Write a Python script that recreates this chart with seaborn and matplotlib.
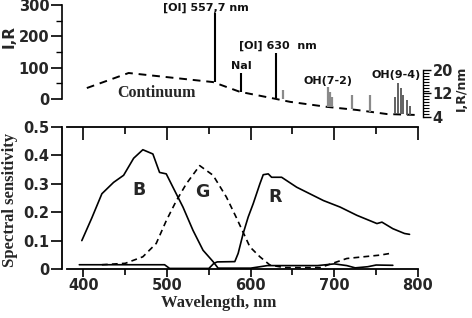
import numpy as np
import pandas as pd
import matplotlib
matplotlib.use("Agg")
import matplotlib.pyplot as plt
import seaborn as sns
from matplotlib.ticker import FixedLocator
from matplotlib.font_manager import FontProperties

sns.set_theme(style="white")
plt.rcParams['font.family'] = ['DejaVu Sans']

# ---------------- data: upper panel (nightglow spectrum) ----------------
cont_wl = [404, 454, 555, 587, 627, 647, 691, 727, 763, 799]
cont_I = [35, 83, 54, 23, 2, -9, -25, -35, -48, -51]

lines_wl = [557.7, 589.0, 630.0]
lines_top = [275, 82, 146]
lines_base = [54, 22, 2]

oh_wl = [639, 692.5, 695, 697, 721.5, 742.5]
oh_top = [30, 37, 23, 7, 13, 13]
oh_base = [0, -25, -25, -25, -33, -40]

oh94_wl = [772.5, 776.5, 779.5, 782.5, 786.5, 790.5]
oh94_top = [6, 51, 35, 13, -3, -22]
oh94_base = [-48, -48, -49, -49, -50, -50]

labels_top = ["[OI] 557,7 nm", "NaI", "[OI] 630  nm", "OH(7-2)", "OH(9-4)", "Continuum"]

# ---------------- data: lower panel (spectral sensitivity) ----------------
B_wl = [398, 410, 422, 436, 448, 460, 471, 483, 491, 499, 507, 519, 531, 543, 555, 561,
        600, 620, 680, 700, 715, 725, 740, 750, 770]
B_val = [0.10, 0.18, 0.265, 0.305, 0.33, 0.39, 0.42, 0.405, 0.34, 0.335, 0.288, 0.218,
         0.136, 0.066, 0.026, 0.003, 0.003, 0.012, 0.012, 0.018, 0.012, 0.004, 0.008,
         0.014, 0.013]

G_wl = [422, 450, 471, 487, 499, 511, 523, 539, 555, 571, 583, 599, 611, 623, 640, 683,
        695, 715, 735, 755, 769]
G_val = [0.015, 0.02, 0.043, 0.09, 0.17, 0.24, 0.30, 0.364, 0.33, 0.253, 0.18, 0.078,
         0.043, 0.014, 0.005, 0.005, 0.017, 0.037, 0.043, 0.049, 0.056]

R_wl = [395, 497, 503, 550, 556, 560, 581, 585, 591, 597, 603, 611, 615, 621, 625, 637,
        655, 687, 707, 727, 751, 757, 770, 784, 790]
R_val = [0.015, 0.015, 0.002, 0.002, 0.02, 0.025, 0.026, 0.055, 0.125, 0.183, 0.23, 0.30,
         0.332, 0.335, 0.323, 0.323, 0.288, 0.241, 0.218, 0.189, 0.16, 0.165, 0.142,
         0.125, 0.122]

x_ticks = [400, 500, 600, 700, 800]

# ---------------- figure ----------------
W, H = 472, 318
fig = plt.figure(figsize=(W / 100, H / 100), dpi=100)
fig.patch.set_facecolor("white")

def rect(x0, y0, x1, y1):
    return [x0 / W, 1 - y1 / H, (x1 - x0) / W, (y1 - y0) / H]

XLIM = (374.3, 806.1)
tick_font = dict(family="DejaVu Sans", weight="bold", size=10.5)
serif_font = dict(family="Liberation Serif", weight="bold")

# ---- top panel ----
ax_t = fig.add_axes(rect(62, 3, 423, 120))
ax_t.set_facecolor("none")
ax_t.set_xlim(*XLIM)
ax_t.set_ylim(-67.0, 306.4)

cont_df = pd.DataFrame({"wl": cont_wl, "I": cont_I})
sns.lineplot(data=cont_df, x="wl", y="I", ax=ax_t, color="black", lw=1.4,
             linestyle=(0, (4, 3)), legend=False)
ax_t.vlines(lines_wl, lines_base, lines_top, color="black", lw=1.5)
ax_t.vlines(oh_wl, oh_base, oh_top, color="#8a8a8a", lw=1.6)
ax_t.vlines(oh94_wl, oh94_base, oh94_top, color="#555555", lw=1.3)

for s in ["top", "bottom", "right"]:
    ax_t.spines[s].set_visible(False)
ax_t.spines["left"].set_bounds(0, 300)
ax_t.spines["left"].set_color("black")
ax_t.spines["left"].set_linewidth(1.2)
ax_t.set_xticks([])
ax_t.yaxis.set_major_locator(FixedLocator([0, 100, 200, 300]))
ax_t.yaxis.set_minor_locator(FixedLocator([50, 150, 250]))
ax_t.tick_params(axis="y", which="major", left=True, direction="out", length=8, width=1.2,
                 color="black", pad=1)
ax_t.tick_params(axis="y", which="minor", left=True, direction="out", length=4, width=1.0,
                 color="black")
for lb in ax_t.get_yticklabels():
    lb.set_fontproperties(FontProperties(**tick_font))
ax_t.set_xlabel("")
ax_t.set_ylabel("")

ax_r = ax_t.twinx()
ax_r.set_facecolor("none")
ax_r.set_ylim(2.98, 42.8)
for s in ["top", "bottom", "left"]:
    ax_r.spines[s].set_visible(False)
ax_r.spines["right"].set_bounds(4, 20)
ax_r.spines["right"].set_color("black")
ax_r.spines["right"].set_linewidth(1.0)
ax_r.yaxis.set_major_locator(FixedLocator([4, 12, 20]))
ax_r.yaxis.set_minor_locator(FixedLocator(list(range(4, 21))))
ax_r.tick_params(axis="y", which="major", right=True, direction="out", length=6, width=1.0,
                 color="black", pad=1)
ax_r.tick_params(axis="y", which="minor", right=True, direction="out", length=4, width=0.8,
                 color="black")
for lb in ax_r.get_yticklabels():
    lb.set_fontproperties(FontProperties(**tick_font))
ax_r.set_xticks([])

ann = dict(family="DejaVu Sans", weight="bold", size=8, color="#111111")
ax_t.text(546, 291, labels_top[0], ha="center", va="center", **ann)
ax_t.text(589.0, 88, labels_top[1], ha="center", va="bottom", **ann)
ax_t.text(632, 152, labels_top[2], ha="center", va="bottom", **ann)
ax_t.text(692, 40, labels_top[3], ha="center", va="bottom", **ann)
ax_t.text(774, 62, labels_top[4], ha="center", va="bottom", **ann)
ax_t.text(487, 19, labels_top[5], ha="center", va="center", size=11.5, **serif_font)

fig.text(9 / W, 1 - 37 / H, "I,R", rotation=90, ha="center", va="center",
         family="DejaVu Sans", weight="bold", size=11)
fig.text(461 / W, 1 - 88 / H, "I,R/nm", rotation=90, ha="center", va="center",
         family="DejaVu Sans", weight="bold", size=9)

# ---- bottom panel ----
ax_b = fig.add_axes(rect(62, 127, 423, 272))
ax_b.set_facecolor("none")
ax_b.set_xlim(*XLIM)
ax_b.set_ylim(-3 / 284, 0.5)

sens = pd.concat([
    pd.DataFrame({"wl": B_wl, "v": B_val, "ch": "B"}),
    pd.DataFrame({"wl": G_wl, "v": G_val, "ch": "G"}),
    pd.DataFrame({"wl": R_wl, "v": R_val, "ch": "R"}),
])
sns.lineplot(data=sens, x="wl", y="v", hue="ch", style="ch",
             palette={"B": "black", "G": "black", "R": "black"},
             dashes={"B": "", "G": (3.5, 2.5), "R": ""},
             lw=1.2, ax=ax_b, legend=False, sort=False, estimator=None)

ax_b.spines["right"].set_visible(False)
ax_b.spines["top"].set_visible(False)
ax_b.spines["bottom"].set_position(("data", 0))
ax_b.spines["bottom"].set_bounds(380, 800)
ax_b.spines["left"].set_bounds(0, 0.5)
for s in ["bottom", "left"]:
    ax_b.spines[s].set_color("black")
    ax_b.spines[s].set_linewidth(1.3)
ax_b.xaxis.set_major_locator(FixedLocator(x_ticks))
ax_b.xaxis.set_minor_locator(FixedLocator([450, 550, 650, 750]))
ax_b.yaxis.set_major_locator(FixedLocator([0, 0.1, 0.2, 0.3, 0.4, 0.5]))
ax_b.set_yticklabels(["0", "0.1", "0.2", "0.3", "0.4", "0.5"])
ax_b.tick_params(axis="x", which="major", bottom=True, direction="out", length=6, width=1.2,
                 color="black", pad=0.5)
ax_b.tick_params(axis="x", which="minor", bottom=True, direction="out", length=4, width=1.2,
                 color="black")
ax_b.tick_params(axis="y", which="major", left=True, direction="out", length=8, width=1.2,
                 color="black", pad=1)
for lb in ax_b.get_yticklabels() + ax_b.get_xticklabels():
    lb.set_fontproperties(FontProperties(**tick_font))
ax_b.set_xlabel("")
ax_b.set_ylabel("")

ax_b2 = ax_b.twiny()
ax_b2.set_xlim(*XLIM)
for s in ["bottom", "left", "right"]:
    ax_b2.spines[s].set_visible(False)
ax_b2.spines["top"].set_bounds(380, 800)
ax_b2.spines["top"].set_color("black")
ax_b2.spines["top"].set_linewidth(1.3)
ax_b2.xaxis.set_major_locator(FixedLocator(x_ticks))
ax_b2.xaxis.set_minor_locator(FixedLocator([450, 550, 650, 750]))
ax_b2.tick_params(axis="x", which="major", top=True, direction="in", length=9, width=1.2,
                  color="black", labeltop=False)
ax_b2.tick_params(axis="x", which="minor", top=True, direction="in", length=5, width=1.2,
                  color="black", labeltop=False)

lbl = dict(family="DejaVu Sans", weight="bold", size=12.5, ha="center", va="center")
ax_b.text(466, 0.278, "B", **lbl)
ax_b.text(542, 0.271, "G", **lbl)
ax_b.text(629, 0.253, "R", **lbl)

fig.text(219 / W, 1 - 303 / H, "Wavelength, nm", ha="center", va="center",
         size=12, **serif_font)
fig.text(10 / W, 1 - 200 / H, "Spectral sensitivity", rotation=90, ha="center",
         va="center", size=12, **serif_font)

fig.savefig("out.png", dpi=100, facecolor="white")
